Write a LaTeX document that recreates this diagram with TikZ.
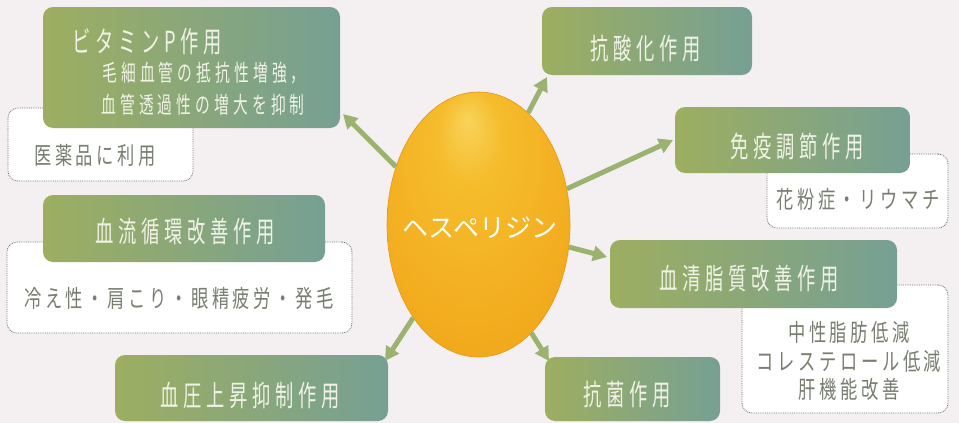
\documentclass[tikz,border=0pt]{standalone}
\usepackage{fontspec}
\newfontfamily\jpT[FakeStretch=0.63,LetterSpace=16.5]{Noto Sans CJK JP}
\newfontfamily\jpU[FakeStretch=0.64,LetterSpace=18]{Noto Sans CJK JP}
\newfontfamily\jpS[FakeStretch=0.72,LetterSpace=15]{Noto Sans CJK JP}
\newfontfamily\jpE{Noto Sans CJK JP}
\usetikzlibrary{arrows.meta,shapes.geometric}
\definecolor{bgc}{HTML}{F4F0F1}
\definecolor{gL}{HTML}{9DAE60}
\definecolor{gR}{HTML}{76A094}
\definecolor{arr}{HTML}{9CB270}
\definecolor{wtxt}{HTML}{F0F2E6}
\definecolor{gtxt}{HTML}{787E70}
\definecolor{eggA}{HTML}{F9D35A}
\definecolor{eggB}{HTML}{F5BC2C}
\definecolor{eggD}{HTML}{F2A91C}
\definecolor{eggC}{HTML}{E8960F}
\pgfdeclareradialshading{eggshade}{\pgfpoint{-3bp}{20bp}}{color(0bp)=(eggA); color(9bp)=(eggB); color(32bp)=(eggD); color(50bp)=(eggC)}
\tikzset{
  gbox/.style={draw=none, rounded corners=10pt, left color=gL, right color=gR, inner sep=0pt},
  wbox/.style={draw=gray!85!black, densely dotted, line width=0.8pt, fill=white, rounded corners=10pt, inner sep=0pt},
  ttl/.style={text=wtxt, font=\fontsize{29}{31}\jpT, inner sep=0pt, anchor=center},
  sub/.style={text=wtxt, font=\fontsize{23}{25}\jpU, inner sep=0pt},
  wtx/.style={text=gtxt, font=\fontsize{24}{26}\jpS, inner sep=0pt, align=center},
  arrw/.style={draw=arr, line width=5pt, -{Triangle[length=14pt,width=15pt]}},
}
\begin{document}
\begin{tikzpicture}[x=1pt,y=-1pt]
\useasboundingbox (0,0) rectangle (959,423);
\fill[bgc] (0,0) rectangle (959,423);
% white boxes
\node[wbox, minimum width=185pt, minimum height=73pt] (medb) at (100.5,144.5) {};
\node[wtx] (medt) at (95,155) {医薬品に利用};
\node[wbox, minimum width=345pt, minimum height=91pt] (flowb) at (179.5,287.5) {};
\node[wtx] (flowt) at (179,298) {冷え性・肩こり・眼精疲労・発毛};
\node[wbox, minimum width=181pt, minimum height=74pt] (pollb) at (857.5,191) {};
\node[wtx] (pollt) at (858,199) {花粉症・リウマチ};
\node[wbox, minimum width=206pt, minimum height=128pt] (lipsb) at (845,349) {};
\node[wtx, font=\fontsize{24}{28.5}\jpS] (lipst) at (849,361) {中性脂肪低減\\コレステロール低減\\肝機能改善};
% green boxes
\node[gbox, minimum width=297pt, minimum height=121pt] (vit) at (191.5,67.5) {};
\node[ttl, anchor=west] (vitt) at (72,41.5) {ビタミンP作用};
\node[sub] (vits1) at (204,73) {毛細血管の抵抗性増強，};
\node[sub] (vits2) at (203,105) {血管透過性の増大を抑制};
\node[gbox, minimum width=282pt, minimum height=67pt] (flow) at (184,228.5) {};
\node[ttl] (flowtt) at (185,232) {血流循環改善作用};
\node[gbox, minimum width=273pt, minimum height=66pt] (bp) at (251.5,388) {};
\node[ttl] (bpt) at (250,396) {血圧上昇抑制作用};
\node[gbox, minimum width=210pt, minimum height=68pt] (aox) at (647,41) {};
\node[ttl] (aoxt) at (646,49) {抗酸化作用};
\node[gbox, minimum width=235pt, minimum height=66pt] (imm) at (792.5,140) {};
\node[ttl] (immt) at (797,146) {免疫調節作用};
\node[gbox, minimum width=287pt, minimum height=68pt] (lip) at (753.5,274) {};
\node[ttl] (lipt) at (749,279) {血清脂質改善作用};
\node[gbox, minimum width=175pt, minimum height=64pt] (abac) at (632.5,389) {};
\node[ttl] (abact) at (627,395) {抗菌作用};
% egg
\node[ellipse, minimum width=183pt, minimum height=265pt, shading=eggshade, draw=eggC, line width=0.6pt, inner sep=0pt] (egg) at (478.5,224.5) {};
\node[text=white, font=\fontsize{26}{28}\jpE, inner sep=0pt] (eggt) at (480,228) {ヘスペリジン};
% arrow tips
\coordinate (t1) at (343,114);
\coordinate (t2) at (547,77);
\coordinate (t3) at (673,140);
\coordinate (t4) at (607,257);
\coordinate (t5) at (549,361);
\coordinate (t6) at (385,361);
\draw[arrw] (egg.145) -- (t1);
\draw[arrw] (egg.66) -- (t2);
\draw[arrw] (egg.22) -- (t3);
\draw[arrw] (egg.-14) -- (t4);
\draw[arrw] (egg.-64) -- (t5);
\draw[arrw] (egg.-125) -- (t6);
\end{tikzpicture}
\end{document}
